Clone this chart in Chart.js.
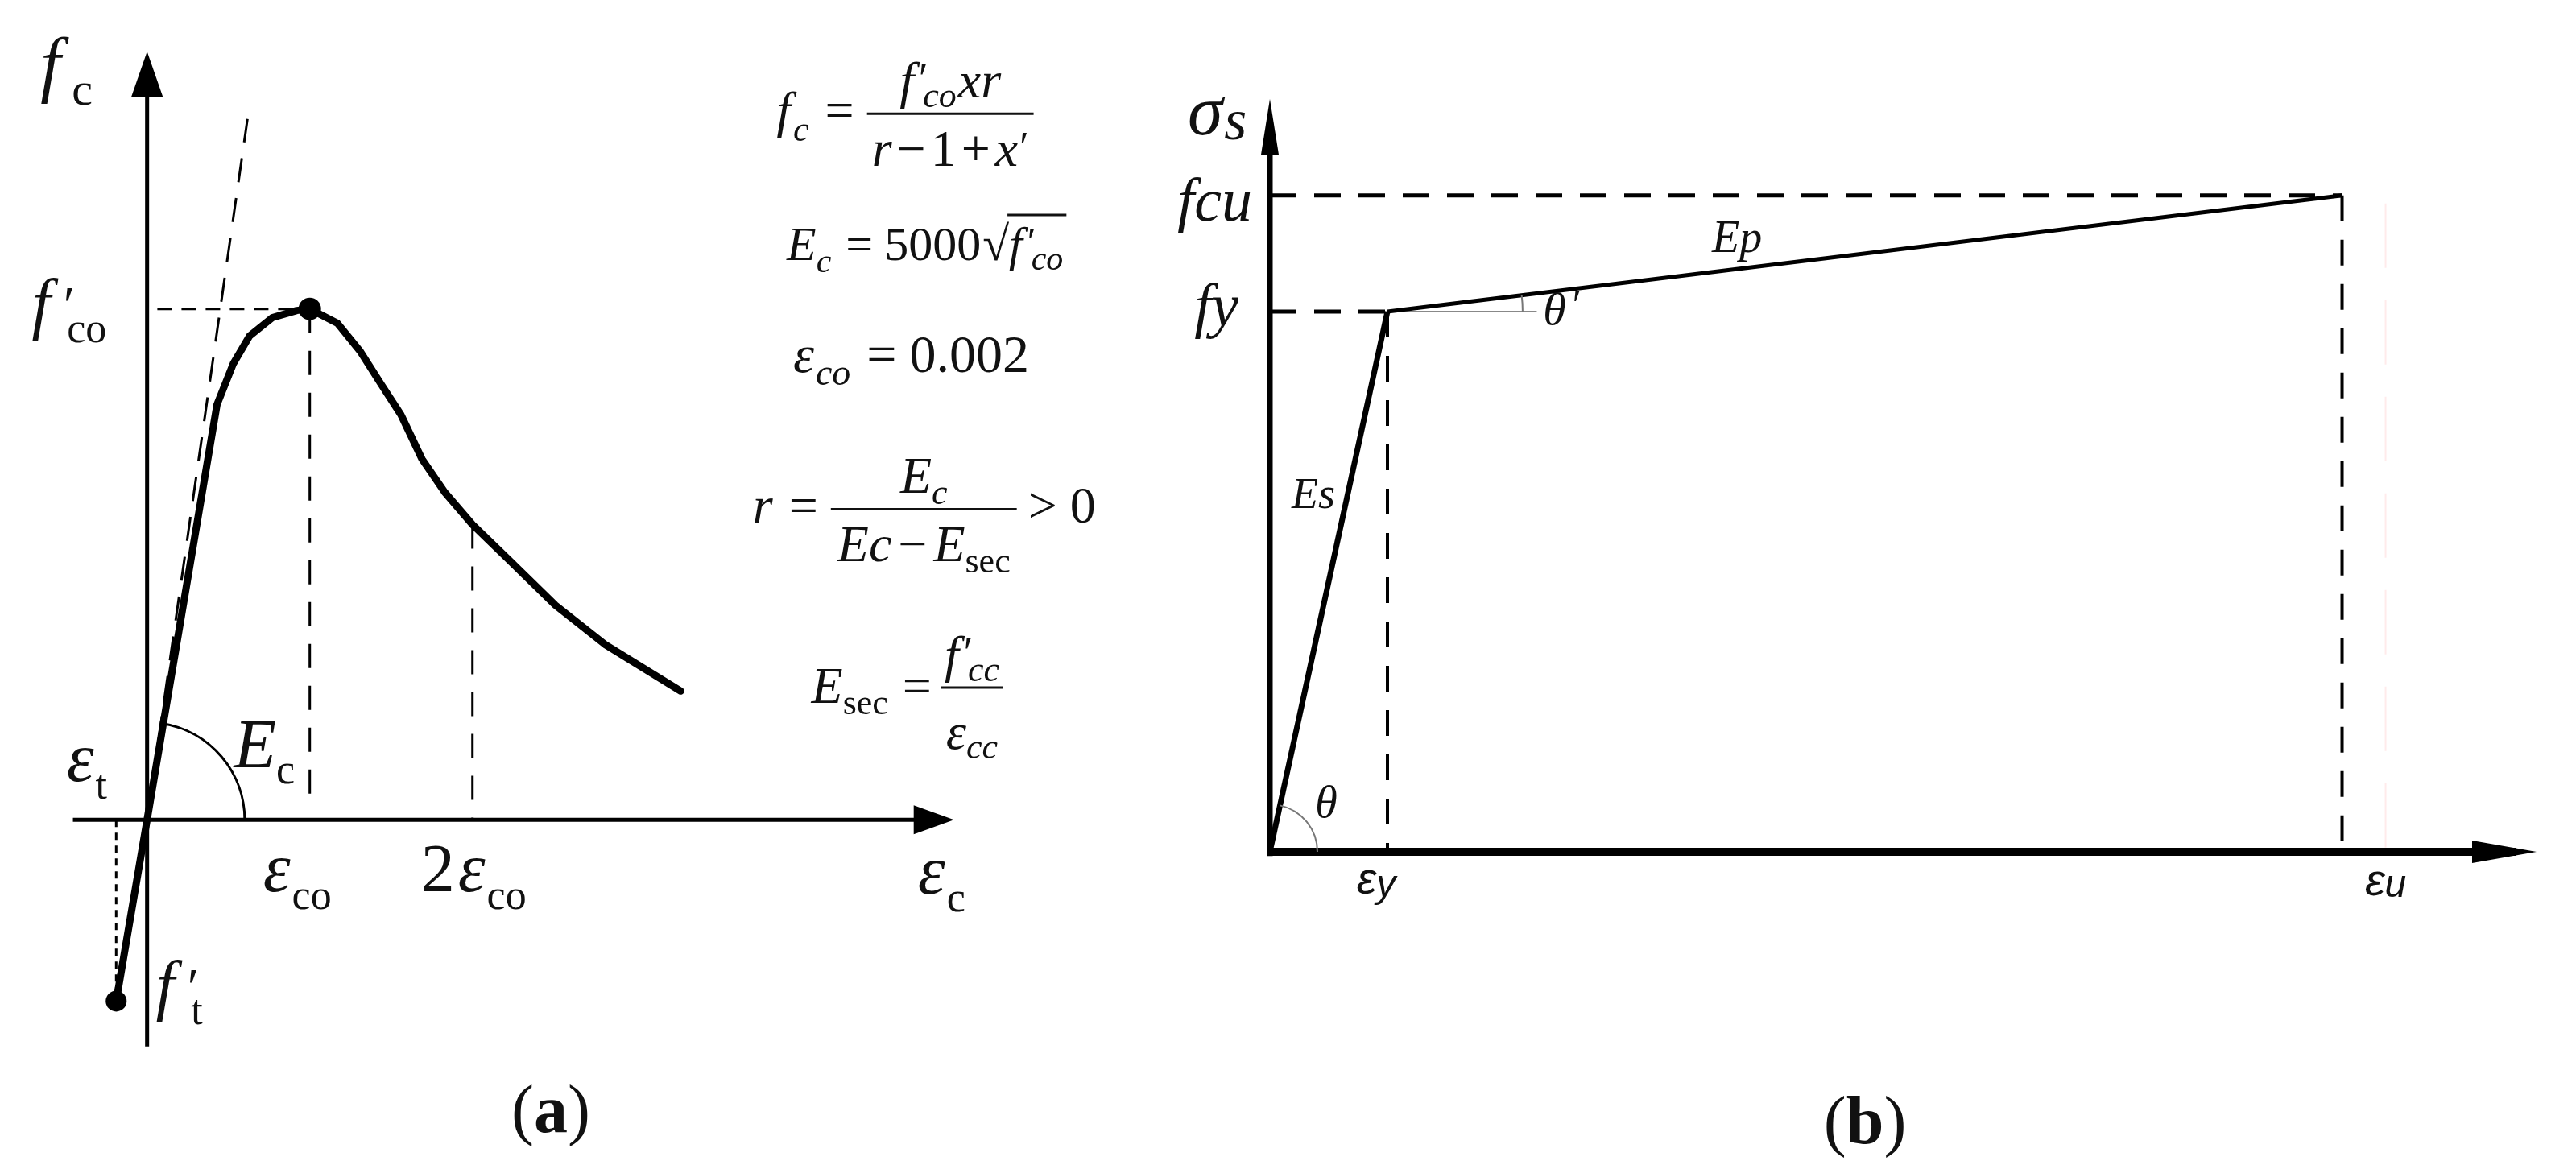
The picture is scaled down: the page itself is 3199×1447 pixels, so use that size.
<!DOCTYPE html>
<html><head><meta charset="utf-8">
<script src="https://cdn.jsdelivr.net/npm/chart.js@4.4.1/dist/chart.umd.min.js"></script>
<style>
html,body{margin:0;padding:0;background:#fff;overflow:hidden;}
#wrap{position:relative;width:3199px;height:1447px;background:#fff;}
canvas{position:absolute;top:0;}
#ca{left:0;} #cb{left:1450px;}
</style></head><body>
<div id="wrap"><canvas id="ca" width="1450" height="1447"></canvas><canvas id="cb" width="1749" height="1447"></canvas></div>
<script>
// ---------- DATA (normalised: strain / eps_co, stress / f'co) ----------
const concreteStrain = [-0.19, 0, 0.43, 0.53, 0.63, 0.77, 0.92, 1.0, 1.17, 1.31, 1.44, 1.56, 1.69, 1.83, 2.0, 2.23, 2.51, 2.82, 3.28];
const concreteStress = [-0.355, 0, 0.813, 0.893, 0.947, 0.983, 0.997, 1.0, 0.972, 0.917, 0.852, 0.793, 0.706, 0.641, 0.578, 0.507, 0.420, 0.342, 0.252];
const peakIndex = 7;        // (eps_co, f'co)
const twoEpsIndex = 14;     // 2 eps_co
const tensionIndex = 0;     // (eps_t, f't)
const tangentStrain = [0, 0.617];
const tangentStress = [0, 1.372];
// steel (normalised: strain / eps_y, stress / fy)
const steelStrain = [0, 1, 9.12];
const steelStress = [0, 1, 1.215];
const steelMarkStrain = [9.49];
const steelLabels = ['fcu', 'fy', 'Ep', 'Es', 'θ', "θ'"];

// ---------- helpers ----------
const SERIF = '"Liberation Serif","DejaVu Serif",serif';
const SANS = '"Liberation Sans","DejaVu Sans",sans-serif';
const I = s => `italic ${s}px ${SERIF}`;
const R = s => `${s}px ${SERIF}`;
const B = s => `bold ${s}px ${SERIF}`;
const SI = s => `italic ${s}px ${SANS}`;
const INK = '#111';

function measureRuns(ctx, runs){ let w=0; for(const r of runs){ctx.font=r.f; w+=(r.dx||0)+ctx.measureText(r.t).width;} return w; }
function drawRuns(ctx, x, y, runs, align){
  const w = measureRuns(ctx, runs);
  if(align==='center') x -= w/2; else if(align==='right') x -= w;
  ctx.textAlign='left'; ctx.textBaseline='alphabetic'; ctx.fillStyle=INK;
  for(const r of runs){ ctx.font=r.f; x+=(r.dx||0); ctx.fillText(r.t, x, y+(r.dy||0)); x+=ctx.measureText(r.t).width; }
  return w;
}
function frac(ctx, x, yb, num, den, pad, denGap){
  const nw=measureRuns(ctx,num), dw=measureRuns(ctx,den);
  const W=Math.max(nw,dw)+2*pad;
  ctx.save(); ctx.strokeStyle=INK; ctx.lineWidth=3; ctx.setLineDash([]);
  ctx.beginPath(); ctx.moveTo(x,yb); ctx.lineTo(x+W,yb); ctx.stroke(); ctx.restore();
  drawRuns(ctx, x+W/2, yb-20, num, 'center');
  drawRuns(ctx, x+W/2, yb+(denGap||65), den, 'center');
  return W;
}
function arrow(ctx, tx, ty, dir, len, wid){
  ctx.save(); ctx.fillStyle='#000'; ctx.beginPath();
  if(dir==='up'){ ctx.moveTo(tx,ty); ctx.lineTo(tx-wid/2,ty+len); ctx.lineTo(tx+wid/2,ty+len); }
  else { ctx.moveTo(tx,ty); ctx.lineTo(tx-len,ty-wid/2); ctx.lineTo(tx-len,ty+wid/2); }
  ctx.closePath(); ctx.fill(); ctx.restore();
}
const pts = (xs, ys) => xs.map((x,i)=>({x, y:ys[i]}));
const line = (data, w, dash, color, extra) => Object.assign({data, showLine:true, borderColor:color||'#000', borderWidth:w, borderDash:dash||[], pointRadius:0, tension:0, fill:false, borderCapStyle:'butt', borderJoinStyle:'round'}, extra||{});

function baseOptions(xmin,xmax,ymin,ymax){
  return {responsive:false, animation:false, devicePixelRatio:1, events:[],
    layout:{padding:0},
    plugins:{legend:{display:false}, tooltip:{enabled:false}, title:{display:false}},
    scales:{x:{type:'linear',display:false,min:xmin,max:xmax}, y:{type:'linear',display:false,min:ymin,max:ymax}}};
}

// ---------- (a) concrete ----------
const pk = {x:concreteStrain[peakIndex], y:concreteStress[peakIndex]};
const two = {x:concreteStrain[twoEpsIndex], y:concreteStress[twoEpsIndex]};
const ten = {x:concreteStrain[tensionIndex], y:concreteStress[tensionIndex]};

const plugA = {id:'plugA', afterDatasetsDraw(chart){
  const ctx=chart.ctx, sx=v=>chart.scales.x.getPixelForValue(v), sy=v=>chart.scales.y.getPixelForValue(v);
  arrow(ctx, sx(0), sy(1.504), 'up', 56, 39);
  arrow(ctx, sx(4.96), sy(0), 'right', 50, 36);
  const cx=sx(0), cy=sy(0);
  const ang=Math.atan2(sy(concreteStress[2])-cy, sx(concreteStrain[2])-cx);
  ctx.save(); ctx.strokeStyle='#000'; ctx.lineWidth=3; ctx.beginPath();
  ctx.arc(cx,cy,sx(0.6)-cx,ang,0); ctx.stroke(); ctx.restore();
  drawRuns(ctx, sx(-0.655), sy(1.431), [{t:'f',f:I(90)},{t:'c',f:R(58),dx:14,dy:20}]);
  drawRuns(ctx, sx(-0.709), sy(0.966), [{t:'f',f:I(84)},{t:'′',f:R(66),dx:16,dy:-4},{t:'co',f:R(52),dx:-10,dy:20}]);
  drawRuns(ctx, sx(-0.495), sy(0.0757), [{t:'ε',f:I(86)},{t:'t',f:R(52),dx:2,dy:22}]);
  drawRuns(ctx, sx(0.534), sy(0.102), [{t:'E',f:I(86)},{t:'c',f:R(52),dx:0,dy:20}]);
  drawRuns(ctx, sx(pk.x)-58, sy(-0.1406), [{t:'ε',f:I(86)},{t:'co',f:R(52),dx:2,dy:22}]);
  drawRuns(ctx, sx(two.x)-64, sy(-0.1406), [{t:'2',f:R(84)},{t:'ε',f:I(86),dx:4},{t:'co',f:R(52),dx:2,dy:22}]);
  drawRuns(ctx, sx(4.738), sy(-0.1453), [{t:'ε',f:I(86)},{t:'c',f:R(52),dx:2,dy:22}]);
  drawRuns(ctx, sx(0.053), sy(-0.368), [{t:'f',f:I(84)},{t:'′',f:R(66),dx:16,dy:-4},{t:'t',f:R(52),dx:-10,dy:20}]);
  drawRuns(ctx, sx(2.481), sy(-0.612), [{t:'(',f:R(84)},{t:'a',f:B(84)},{t:')',f:R(84)}], 'center');
  // formulas
  let x=sx(3.869), b=sy(1.3555);
  x += drawRuns(ctx,x,b,[{t:'f',f:I(64)},{t:'c',f:I(44),dx:3,dy:17},{t:'=',f:R(64),dx:20}]) + 16;
  frac(ctx,x,b-17,[{t:'f',f:I(64)},{t:'′',f:R(52),dx:6,dy:-6},{t:'co',f:I(44),dx:-6,dy:12},{t:'xr',f:I(64),dx:2}],
       [{t:'r',f:I(64)},{t:'−',f:R(64),dx:6},{t:'1',f:R(64),dx:6},{t:'+',f:R(64),dx:6},{t:'x',f:I(64),dx:6},{t:'′',f:R(52),dx:2,dy:-6}],6,65);
  x=sx(3.932); b=sy(1.0958);
  x += drawRuns(ctx,x,b,[{t:'E',f:I(60)},{t:'c',f:I(42),dx:0,dy:15},{t:'=',f:R(60),dx:18},{t:'5000',f:R(60),dx:14},{t:'√',f:R(60),dx:2}]);
  const rs=x;
  const rw = drawRuns(ctx,x,b,[{t:'f',f:I(60)},{t:'′',f:R(50),dx:6,dy:-6},{t:'co',f:I(42),dx:-6,dy:12}]);
  ctx.save(); ctx.strokeStyle=INK; ctx.lineWidth=3; ctx.beginPath(); ctx.moveTo(rs-2,b-56); ctx.lineTo(rs+rw+4,b-56); ctx.stroke(); ctx.restore();
  drawRuns(ctx,sx(3.971),sy(0.8764),[{t:'ε',f:I(66)},{t:'co',f:I(46),dx:2,dy:16},{t:'=',f:R(66),dx:20},{t:'0.002',f:R(66),dx:16}]);
  x=sx(3.723); b=sy(0.5811);
  x += drawRuns(ctx,x,b,[{t:'r',f:I(64)},{t:'=',f:R(64),dx:20}]) + 16;
  x += frac(ctx,x,b-17,[{t:'E',f:I(64)},{t:'c',f:I(44),dy:14}],
       [{t:'Ec',f:I(64)},{t:'−',f:R(64),dx:8},{t:'E',f:I(64),dx:8},{t:'sec',f:R(44),dy:14}],8,65);
  drawRuns(ctx,x,b,[{t:'>',f:R(64),dx:14},{t:'0',f:R(64),dx:16}]);
  x=sx(4.083); b=sy(0.2287);
  x += drawRuns(ctx,x,b,[{t:'E',f:I(64)},{t:'sec',f:R(44),dy:14},{t:'=',f:R(64),dx:18}]) + 12;
  frac(ctx,x,b-19,[{t:'f',f:I(64)},{t:'′',f:R(52),dx:6,dy:-6},{t:'cc',f:I(44),dx:-6,dy:12}],
       [{t:'ε',f:I(64)},{t:'cc',f:I(44),dy:12}],4,76);
}};

new Chart(document.getElementById('ca'), {
  type:'scatter',
  data:{datasets:[
    line(pts(concreteStrain, concreteStress), 9, [], '#000', {borderCapStyle:'round'}),
    {data:[pk], pointRadius:14, pointBackgroundColor:'#000', pointBorderWidth:0, showLine:false},
    {data:[ten], pointRadius:13, pointBackgroundColor:'#000', pointBorderWidth:0, showLine:false},
    line(pts(tangentStrain, tangentStress), 3, [30,20]),
    line([{x:0.063,y:pk.y},{x:pk.x,y:pk.y}], 3, [18,12]),
    line([{x:pk.x,y:pk.y},{x:pk.x,y:0.032}], 3, [30,22]),
    line([{x:two.x,y:two.y},{x:two.x,y:0}], 3, [30,22]),
    line([{x:ten.x,y:0},{x:ten.x,y:ten.y}], 3, [9,7]),
    line([{x:0,y:-0.4436},{x:0,y:1.45}], 5),
    line([{x:-0.456,y:0},{x:4.8,y:0}], 5)
  ]},
  options: baseOptions(-172/206, (1450-172)/206, -(1447-1024)/647, 1024/647),
  plugins:[plugA]
});

// ---------- (b) steel ----------
const yp = {x:steelStrain[1], y:steelStress[1]};
const up = {x:steelStrain[2], y:steelStress[2]};
const plugB = {id:'plugB', afterDatasetsDraw(chart){
  const ctx=chart.ctx, sx=v=>chart.scales.x.getPixelForValue(v), sy=v=>chart.scales.y.getPixelForValue(v);
  arrow(ctx, sx(0), sy(1.3934), 'up', 69, 22);
  arrow(ctx, sx(10.774), sy(0), 'right', 80, 28);
  const cx=sx(0), cy=sy(0);
  let a=Math.atan2(sy(yp.y)-cy, sx(yp.x)-cx);
  ctx.save(); ctx.strokeStyle='#777'; ctx.lineWidth=2; ctx.beginPath(); ctx.arc(cx,cy,sx(0.404)-cx,a,0); ctx.stroke();
  const qx=sx(yp.x), qy=sy(yp.y);
  a=Math.atan2(sy(up.y)-qy, sx(up.x)-qx);
  ctx.beginPath(); ctx.arc(qx,qy,sx(1.15)-sx(0),a,0); ctx.stroke(); ctx.restore();
  drawRuns(ctx, sx(-0.699), sy(1.3279), [{t:'σ',f:I(88)},{t:'s',f:I(72),dx:2,dy:6}]);
  drawRuns(ctx, sx(-0.151), sy(1.168), [{t:steelLabels[0],f:I(76)}], 'right');
  drawRuns(ctx, sx(-0.267), sy(0.973), [{t:steelLabels[1],f:I(76)}], 'right');
  drawRuns(ctx, sx(3.973), sy(1.110), [{t:steelLabels[2],f:I(56)}], 'center');
  drawRuns(ctx, sx(0.370), sy(0.636), [{t:steelLabels[3],f:I(54)}], 'center');
  drawRuns(ctx, sx(0.479), sy(0.064), [{t:steelLabels[4],f:I(56)}], 'center');
  drawRuns(ctx, sx(2.486), sy(0.976), [{t:'θ',f:I(58)},{t:'′',f:R(50),dx:8,dy:-8}], 'center');
  drawRuns(ctx, sx(yp.x)-14, sy(-0.0775), [{t:'ε',f:SI(56)},{t:'y',f:SI(48),dx:0,dy:4}], 'center');
  drawRuns(ctx, sx(steelMarkStrain[0]), sy(-0.0805), [{t:'ε',f:SI(56)},{t:'u',f:SI(48),dx:0,dy:2}], 'center');
  drawRuns(ctx, sx(5.062), sy(-0.5395), [{t:'(',f:R(84)},{t:'b',f:B(84)},{t:')',f:R(84)}], 'center');
}};

new Chart(document.getElementById('cb'), {
  type:'scatter',
  data:{datasets:[
    line(pts(steelStrain.slice(0,2), steelStress.slice(0,2)), 7),
    line(pts(steelStrain.slice(1), steelStress.slice(1)), 5),
    line([{x:0,y:up.y},{x:up.x,y:up.y}], 5, [33,22]),
    line([{x:0,y:yp.y},{x:yp.x,y:yp.y}], 5, [33,22]),
    line([{x:yp.x,y:yp.y},{x:yp.x,y:0}], 4, [32,23]),
    line([{x:up.x,y:up.y},{x:up.x,y:0}], 4, [32,23]),
    line([{x:steelMarkStrain[0],y:1.2},{x:steelMarkStrain[0],y:0}], 2, [80,40], 'rgba(255,90,90,0.12)'),
    line([{x:yp.x,y:yp.y},{x:2.27,y:yp.y}], 2, [], '#888'),
    line([{x:0,y:-0.008},{x:0,y:1.35}], 7),
    line([{x:0,y:0},{x:10.6,y:0}], 10)
  ]},
  options: baseOptions(-(1577-1450)/146, (3199-1577)/146, -(1447-1058)/671, 1058/671),
  plugins:[plugB]
});
</script></body></html>
